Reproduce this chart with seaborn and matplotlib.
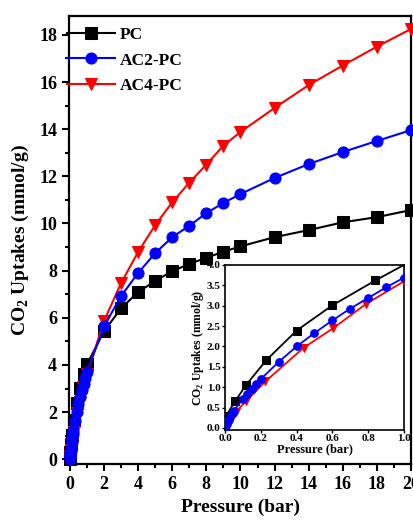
import numpy as np
import pandas as pd
import matplotlib
matplotlib.use("Agg")
import matplotlib.pyplot as plt
from matplotlib.ticker import MultipleLocator, FormatStrFormatter
import seaborn as sns

# low pressure part (0-1 bar)
pc_p_low = [0.001, 0.005, 0.056, 0.117, 0.23, 0.40, 0.60, 0.84, 1.02]
pc_q_low = [0.02, 0.29, 0.65, 1.05, 1.66, 2.39, 3.01, 3.62, 4.05]
ac2_p_low = [0.001, 0.01, 0.02, 0.03, 0.04, 0.05, 0.10, 0.125, 0.15, 0.175, 0.2,
             0.3, 0.4, 0.5, 0.6, 0.7, 0.8, 0.9, 1.0]
ac2_q_low = [0.01, 0.10, 0.20, 0.28, 0.35, 0.42, 0.72, 0.83, 0.95, 1.08, 1.20,
             1.62, 2.00, 2.33, 2.64, 2.93, 3.19, 3.45, 3.69]
ac4_p_low = [0.001, 0.005, 0.02, 0.06, 0.117, 0.225, 0.44, 0.605, 0.79, 1.0]
ac4_q_low = [0.0, 0.03, 0.15, 0.40, 0.65, 1.14, 1.97, 2.45, 3.05, 3.60]

# high pressure part (2-20 bar)
p_high = [2, 3, 4, 5, 6, 7, 8, 9, 10, 12, 14, 16, 18, 20]
pc_q_high = [5.43, 6.40, 7.09, 7.56, 7.98, 8.28, 8.55, 8.80, 9.03, 9.42, 9.72, 10.05, 10.27, 10.57]
ac2_q_high = [5.64, 6.92, 7.90, 8.74, 9.42, 9.90, 10.44, 10.87, 11.25, 11.93, 12.52, 13.03, 13.50, 13.96]
ac4_q_high = [5.86, 7.47, 8.79, 9.93, 10.90, 11.73, 12.50, 13.30, 13.88, 14.90, 15.87, 16.70, 17.50, 18.25]

labels = ["PC", "AC2-PC", "AC4-PC"]
colors = ["black", "blue", "red"]
markers = ["s", "o", "v"]
zorders = [3, 5, 4]  # blue drawn over red

plt.rcParams['font.family'] = ['Liberation Serif', 'DejaVu Serif']
plt.rcParams['font.weight'] = 'bold'
plt.rcParams['mathtext.fontset'] = 'custom'
plt.rcParams['mathtext.rm'] = 'Liberation Serif:bold'
plt.rcParams['mathtext.bf'] = 'Liberation Serif:bold'

low = [(pc_p_low, pc_q_low), (ac2_p_low, ac2_q_low), (ac4_p_low, ac4_q_low)]
high = [pc_q_high, ac2_q_high, ac4_q_high]

fig = plt.figure(figsize=(4.14, 5.21), dpi=100)
ax = fig.add_axes([0.1667, 0.1094, 0.8261, 0.8599])

for (pl, ql), qh, lab, c, m, z in zip(low, high, labels, colors, markers, zorders):
    df = pd.DataFrame({"p": list(pl) + p_high, "q": list(ql) + qh})
    sns.lineplot(data=df, x="p", y="q", ax=ax, color=c, marker=m, markersize=8,
                 markeredgecolor=c, linewidth=1.5, sort=False, label=lab,
                 clip_on=False, zorder=z)

ax.set_xlim(-0.05, 20)
ax.set_ylim(-0.2, 18.8)
ax.xaxis.set_major_locator(MultipleLocator(2))
ax.xaxis.set_minor_locator(MultipleLocator(1))
ax.yaxis.set_major_locator(MultipleLocator(2))
ax.yaxis.set_minor_locator(MultipleLocator(1))
ax.tick_params(which='major', direction='out', length=5, width=1.5, labelsize=13,
               top=False, right=False)
ax.tick_params(which='minor', direction='out', length=3, width=1.5, top=False, right=False)
for s in ax.spines.values():
    s.set_linewidth(1.6)
ax.set_xlabel("Pressure (bar)", fontsize=14, fontweight='bold', labelpad=4)
ax.set_ylabel(r"CO$_2$ Uptakes (mmol/g)", fontsize=14, fontweight='bold', labelpad=6)

leg = ax.legend(loc='upper left', bbox_to_anchor=(-0.006, 0.975), frameon=False,
                fontsize=12.5, handlelength=2.75, handletextpad=0.3, borderaxespad=0,
                borderpad=0, labelspacing=0.52)

# inset
ins = fig.add_axes([0.5435, 0.1747, 0.4323, 0.3167])
for (pl, ql), lab, c, m, z in zip(low, labels, colors, markers, zorders):
    df = pd.DataFrame({"p": pl, "q": ql})
    sns.lineplot(data=df, x="p", y="q", ax=ins, color=c, marker=m, markersize=5.5,
                 markeredgecolor=c, linewidth=1.3, sort=False, legend=False, zorder=z)
ins.set_xlim(0, 1.0)
ins.set_ylim(-0.05, 4.0)
ins.xaxis.set_major_locator(MultipleLocator(0.2))
ins.yaxis.set_major_locator(MultipleLocator(0.5))
ins.xaxis.set_major_formatter(FormatStrFormatter('%.1f'))
ins.yaxis.set_major_formatter(FormatStrFormatter('%.1f'))
ins.tick_params(direction='out', length=2, width=1, labelsize=8, pad=1,
                top=False, right=False)
for s in ins.spines.values():
    s.set_linewidth(1.2)
ins.set_xlabel("Pressure (bar)", fontsize=9, fontweight='bold', labelpad=0)
ins.set_ylabel(r"CO$_2$ Uptakes (mmol/g)", fontsize=8.5, fontweight='bold', labelpad=1)

fig.savefig("out.png", dpi=100)
